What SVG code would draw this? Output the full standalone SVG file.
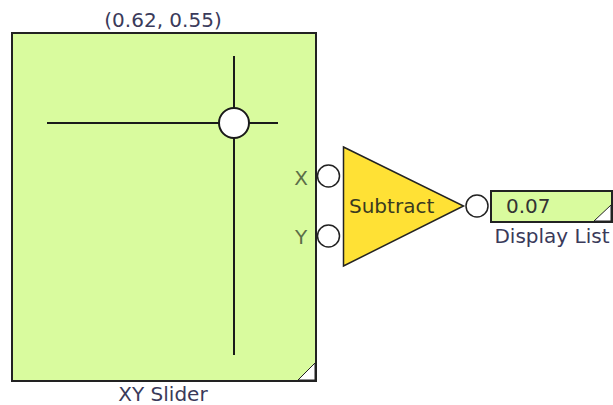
<svg xmlns="http://www.w3.org/2000/svg" width="613" height="405" viewBox="0 0 613 405">
<defs>
<style>
text{font-family:"DejaVu Sans",Verdana,sans-serif;font-size:20px}
.lbl{fill:#3a3a5a;text-anchor:middle}
.port{fill:#ffffff;stroke:#222222;stroke-width:1.5}
.box{fill:#d9fb9e;stroke:#222222;stroke-width:2}
.corner{fill:#ffffff;stroke:#222222;stroke-width:1}
.cross{stroke:#1a1a1a;stroke-width:2}
.pin{fill:#5c6e48;text-anchor:middle}
</style>
</defs>
<rect width="613" height="405" fill="#ffffff"/>
<g id="xy-slider">
<text class="lbl" x="163" y="27">(0.62, 0.55)</text>
<rect class="box" x="12" y="33" width="304" height="348"/>
<polygon class="corner" points="298,380 315,380 315,363"/>
<line class="cross" x1="47" y1="123" x2="278" y2="123"/>
<line class="cross" x1="234" y1="56" x2="234" y2="355"/>
<circle cx="234" cy="123" r="15" fill="#ffffff" stroke="#1a1a1a" stroke-width="2"/>
<text class="lbl" x="163" y="401">XY Slider</text>
<text class="pin" x="301" y="185">X</text>
<text class="pin" x="301" y="244">Y</text>
</g>
<g id="subtract">
<circle class="port" cx="328.5" cy="176" r="11"/>
<circle class="port" cx="328.5" cy="236" r="11"/>
<polygon points="343.5,147 463.5,206 343.5,266" fill="#ffe135" stroke="#222222" stroke-width="1.5"/>
<text x="349" y="213" fill="#3a3a20">Subtract</text>
<circle class="port" cx="477" cy="206" r="11"/>
</g>
<g id="display-list">
<rect class="box" x="491" y="191" width="121" height="31"/>
<polygon class="corner" points="594,221 611,221 611,205"/>
<text x="506" y="213" fill="#333333">0.07</text>
<text class="lbl" x="552" y="243">Display List</text>
</g>
<g id="connectors"></g>
</svg>
